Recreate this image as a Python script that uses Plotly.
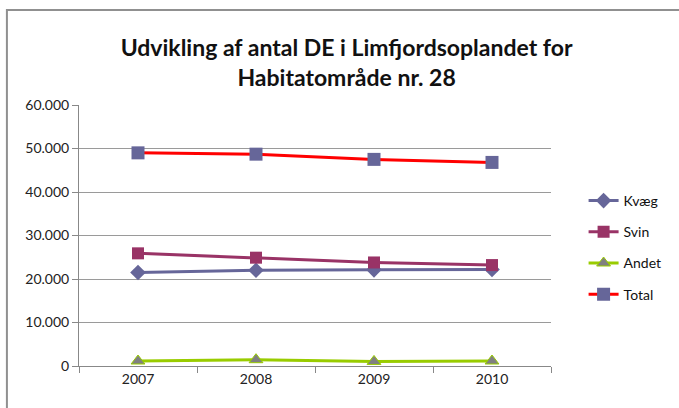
import plotly.graph_objects as go

years = ["2007", "2008", "2009", "2010"]
kvaeg = [21500, 22000, 22100, 22200]
svin = [25900, 24900, 23800, 23200]
andet = [1150, 1450, 1050, 1150]
total = [49000, 48700, 47500, 46800]

series = [
    ("Kvæg", kvaeg, "#666699", dict(symbol="diamond", color="#666699", size=12)),
    ("Svin", svin, "#993366", dict(symbol="square", color="#993366", size=12)),
    ("Andet", andet, "#99CC00", dict(symbol="triangle-up", color="#808080", size=12,
                                      line=dict(color="#99CC00", width=1))),
    ("Total", total, "#FF0000", dict(symbol="square", color="#666699", size=13)),
]

fig = go.Figure()
for name, vals, lc, mk in series:
    fig.add_trace(go.Scatter(x=years, y=vals, name=name, mode="lines+markers",
                             legendgroup=name,
                             line=dict(color=lc, width=3), marker=mk))

W, H = 679, 408
L, R, T, B = 79, 557, 105, 366
pw, ph = R - L, B - T

def px(x):
    return (x - L) / pw

def py(y):
    return (B - y) / ph

fig.update_layout(
    width=W, height=H,
    margin=dict(l=L, r=W - R, t=T, b=H - B),
    paper_bgcolor="white", plot_bgcolor="white",
    separators=",.",
    font=dict(family="Lato, Open Sans, sans-serif", size=14, color="#222222"),
    title=dict(text="<b>Udvikling af antal DE i Limfjordsoplandet for<br>Habitatområde nr. 28</b>",
               x=px(350), xanchor="center", xref="paper", y=1 - 56 / H, yanchor="middle",
               font=dict(size=23, color="#111111", family="Lato, Open Sans, sans-serif")),
    legend=dict(x=px(590), y=py(185), xanchor="left", yanchor="top",
                font=dict(size=14, color="#111111"), tracegroupgap=10,
                bgcolor="rgba(0,0,0,0)"),
    showlegend=True,
    xaxis=dict(type="category", tickson="boundaries", ticks="outside", ticklen=6,
               tickcolor="#888888", showline=True, linecolor="#888888", linewidth=1,
               showgrid=False, range=[-0.5, 3.5], tickfont=dict(size=14)),
    yaxis=dict(range=[0, 60000], dtick=10000, tickformat=",d", ticks="outside", ticklen=6,
               tickcolor="#888888", showline=True, linecolor="#888888", linewidth=1,
               showgrid=True, gridcolor="#9a9a9a", gridwidth=1, zeroline=False,
               tickfont=dict(size=14)),
    shapes=[dict(type="rect", xref="paper", yref="paper",
                 x0=px(6), x1=px(690), y0=py(420), y1=py(10),
                 line=dict(color="#909090", width=2), layer="below")],
)

fig.write_html("out.html", config={"displayModeBar": False},
               post_script="document.body.style.margin='0';")
